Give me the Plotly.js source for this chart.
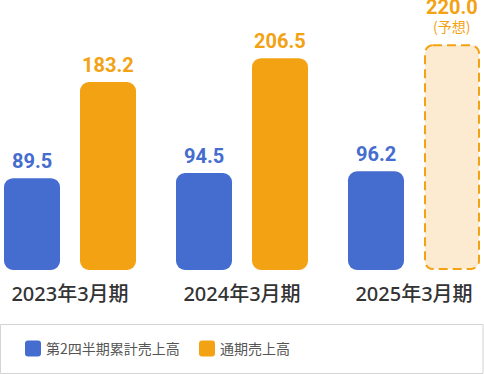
<!DOCTYPE html>
<html><head><meta charset="utf-8">
<script src="https://cdn.plot.ly/plotly-3.0.1.min.js"></script>
<style>html,body{margin:0;padding:0;background:#fff;}#chart{width:484px;height:374px;}</style>
</head><body><div id="chart"></div>
<script>
var categories = ['2023年3月期', '2024年3月期', '2025年3月期'];
var q2Sales = [89.5, 94.5, 96.2];
var fullYearSales = [183.2, 206.5, 220.0];
var forecastFlags = [false, false, true];
var seriesNames = ['第2四半期累計売上高', '通期売上高'];
var forecastNote = '(予想)';

var BLUE = '#456CCF', ORANGE = '#F3A213', LIGHT = '#FDEBD1';
var numFont = {family: 'Roboto', size: 20, weight: 700};

var traces = [
  {type: 'bar', name: seriesNames[0], x: categories, y: q2Sales,
   marker: {color: BLUE, line: {width: 0}}, hoverinfo: 'none'},
  {type: 'bar', name: seriesNames[1], x: categories, y: fullYearSales,
   marker: {color: forecastFlags.map(function(f){return f ? LIGHT : ORANGE;}),
            line: {color: ORANGE, width: forecastFlags.map(function(f){return f ? 2 : 0;})}},
   hoverinfo: 'none'}
];

var annotations = [];
categories.forEach(function(c, i) {
  annotations.push({x: c, y: q2Sales[i], xref: 'x', yref: 'y', text: q2Sales[i].toFixed(1),
    showarrow: false, yanchor: 'bottom', xshift: -38, yshift: 3,
    font: Object.assign({color: BLUE}, numFont)});
  if (forecastFlags[i]) {
    annotations.push({x: c, y: fullYearSales[i], xref: 'x', yref: 'y',
      text: '<span style="font-family:Roboto;font-size:20px;font-weight:bold">' + fullYearSales[i].toFixed(1) +
            '</span><br>' + forecastNote,
      showarrow: false, yanchor: 'bottom', xshift: 38, yshift: 6,
      font: {family: 'Noto Sans CJK JP', size: 14, color: ORANGE}});
  } else {
    annotations.push({x: c, y: fullYearSales[i], xref: 'x', yref: 'y', text: fullYearSales[i].toFixed(1),
      showarrow: false, yanchor: 'bottom', xshift: 38, yshift: 3,
      font: Object.assign({color: ORANGE}, numFont)});
  }
});

var layout = {
  width: 484, height: 374,
  margin: {l: 0, r: 0, t: 0, b: 104},
  paper_bgcolor: '#fff', plot_bgcolor: '#fff',
  barmode: 'group', bargap: 0.1163, bargroupgap: 0.263,
  xaxis: {type: 'category', range: [-0.407, 2.407], showgrid: false, zeroline: false,
          showline: false, ticks: '', ticklabelstandoff: 10, fixedrange: true,
          tickfont: {family: 'Noto Sans, Noto Sans CJK JP', size: 20, color: '#333', weight: 500}},
  yaxis: {visible: false, range: [0, 263.2], fixedrange: true},
  showlegend: true,
  legend: {orientation: 'h', x: 0.0124, xanchor: 'left', y: -0.2926, yanchor: 'middle',
           bgcolor: 'rgba(0,0,0,0)', borderwidth: 0, entrywidth: 129, entrywidthmode: 'pixels',
           font: {family: 'Noto Sans CJK JP', size: 14, color: '#555'}},
  shapes: [{type: 'rect', xref: 'paper', yref: 'paper', x0: 0.001, x1: 0.998,
            y0: -0.2019, y1: -0.3833, line: {color: '#D3D3D3', width: 1}, fillcolor: 'rgba(0,0,0,0)'}],
  annotations: annotations
};

function rr(x0, y0, x1, y1, r) {
  r = Math.min(r, (x1 - x0) / 2, (y1 - y0) / 2);
  return 'M' + (x0 + r) + ',' + y0 + 'H' + (x1 - r) + 'A' + r + ',' + r + ' 0 0 1 ' + x1 + ',' + (y0 + r) +
    'V' + (y1 - r) + 'A' + r + ',' + r + ' 0 0 1 ' + (x1 - r) + ',' + y1 +
    'H' + (x0 + r) + 'A' + r + ',' + r + ' 0 0 1 ' + x0 + ',' + (y1 - r) +
    'V' + (y0 + r) + 'A' + r + ',' + r + ' 0 0 1 ' + (x0 + r) + ',' + y0 + 'Z';
}

var gd = document.getElementById('chart');
Plotly.newPlot(gd, traces, layout, {staticPlot: true, displayModeBar: false}).then(function() {
  var barTraces = gd.querySelectorAll('.barlayer .trace');
  barTraces.forEach(function(tr, ti) {
    tr.querySelectorAll('.point path').forEach(function(p, pi) {
      var b = p.getBBox();
      var dashed = ti === 1 && forecastFlags[pi];
      var ins = dashed ? 1 : 0;
      p.setAttribute('d', rr(b.x + ins, b.y + ins, b.x + b.width - ins, b.y + b.height - ins, dashed ? 8 : 9));
      if (dashed) {
        p.style.strokeDasharray = '9,5';
        p.style.stroke = ORANGE;
        p.style.strokeWidth = '2px';
      }
    });
  });
  gd.querySelectorAll('.legend .traces').forEach(function(g) {
    var txt = g.querySelector('.legendtext');
    var p = g.querySelector('.legendpoints path');
    if (!txt || !p) return;
    var tr = txt.getBoundingClientRect();
    var b = p.getBBox();
    var s = p.getBoundingClientRect();
    var dx = s.left - b.x, dy = s.top - b.y;
    var cy = s.top + s.height / 2;
    var left = tr.left - 21, top = cy - 8;
    p.setAttribute('d', rr(left - dx, top - dy, left - dx + 16, top - dy + 16, 3));
    p.style.strokeWidth = '0px';
  });
});
</script>
</body></html>
